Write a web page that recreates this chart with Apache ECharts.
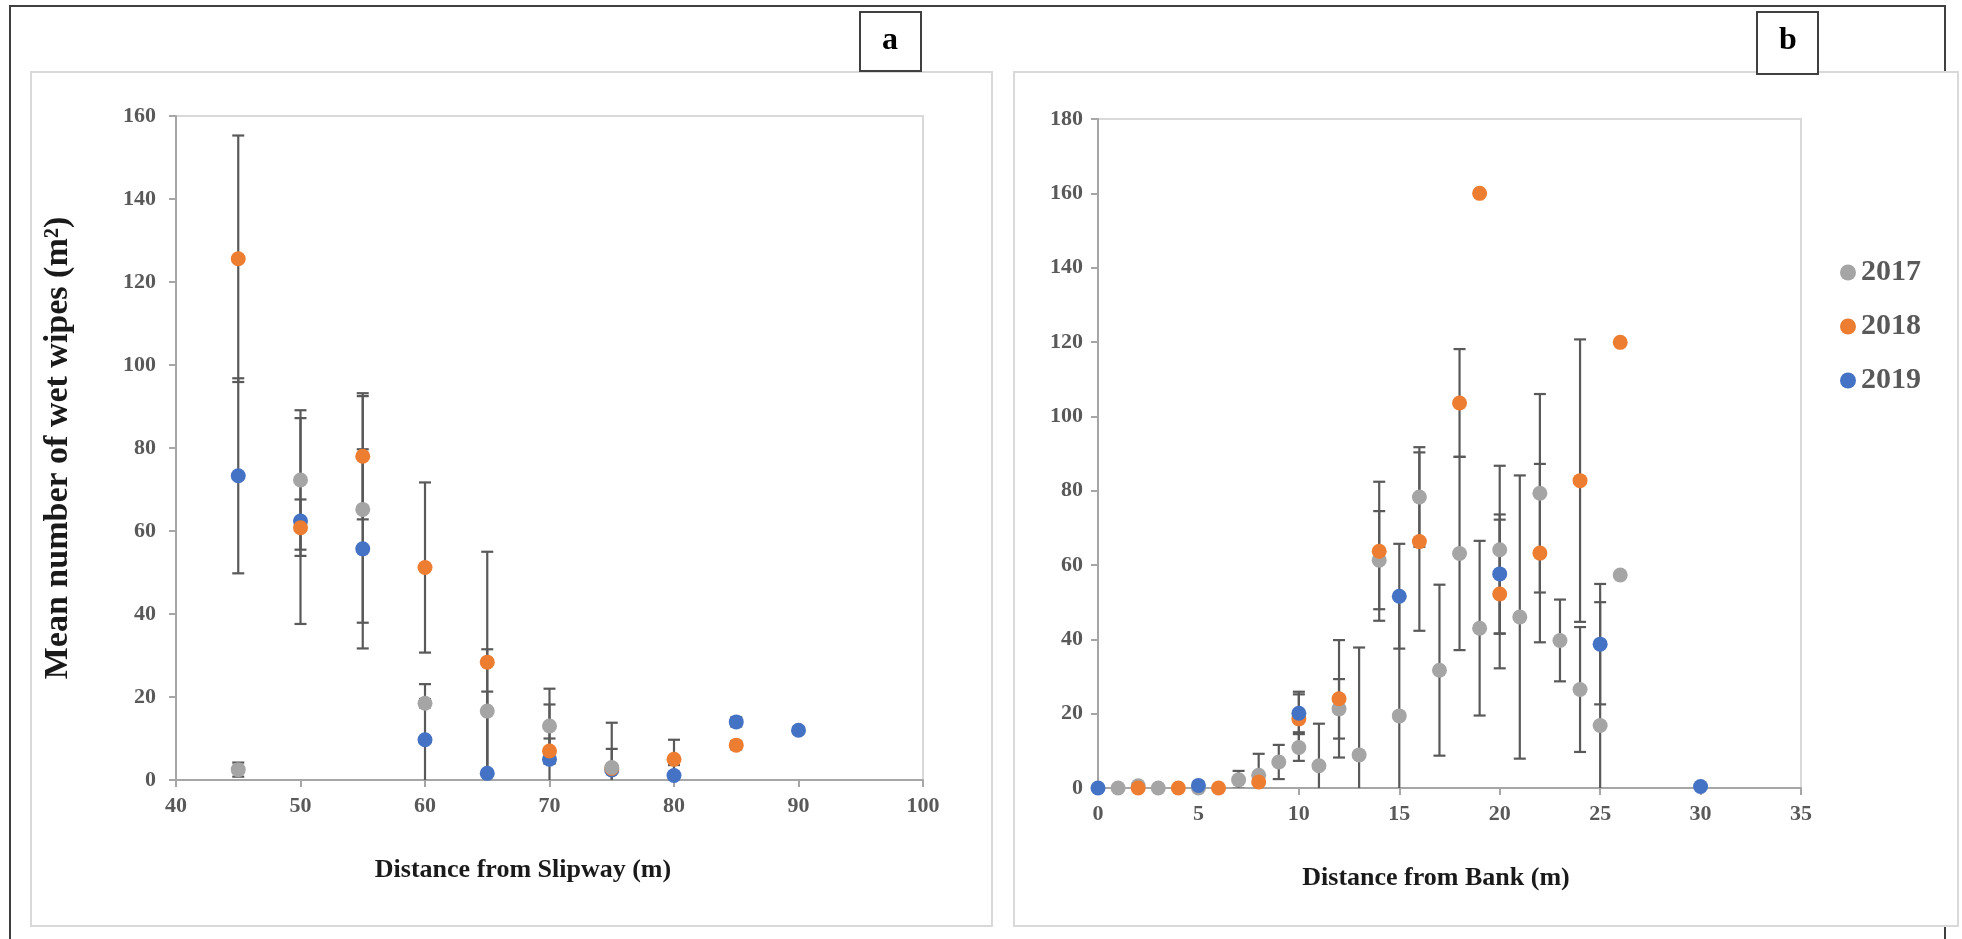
<!DOCTYPE html>
<html>
<head>
<meta charset="utf-8">
<script src="https://cdn.jsdelivr.net/npm/echarts@6/dist/echarts.min.js"></script>
<style>
  html, body { margin: 0; padding: 0; background: #fff; }
  #main { width: 1962px; height: 939px; }
</style>
</head>
<body>
<div id="main"></div>
<script>
// panel a - distance from slipway
const slipX2017 = [45, 50, 55, 60, 65, 70, 75];
const slipMean2017 = [2.5, 72.3, 65.2, 18.5, 16.6, 13.0, 3.0];
const slipErr2017 = [1.7, 16.8, 27.3, 1.0, 14.9, 9.0, 10.8];

const slipX2018 = [45, 50, 55, 60, 65, 70, 75, 80, 85];
const slipMean2018 = [125.6, 60.8, 78.0, 51.2, 28.4, 7.0, 2.8, 5.0, 8.4];
const slipErr2018 = [29.7, 6.8, 15.2, 20.5, 26.6, 3.0, 4.7, 4.7, 1.0];

const slipX2019 = [45, 50, 55, 60, 65, 70, 75, 80, 85, 90];
const slipMean2019 = [73.3, 62.4, 55.7, 9.7, 1.6, 5.0, 2.4, 1.1, 14.0, 12.0];
const slipErr2019 = [23.5, 24.8, 24.0, 13.4, 19.7, 13.2, 0.5, 2.5, 1.1, 0.8];

// panel b - distance from bank
const bankX2017 = [1, 2, 3, 5, 7, 8, 9, 10, 11, 12, 13, 14, 15, 16, 17, 18, 19, 20, 21, 22, 23, 24, 25, 26];
const bankMean2017 = [0, 0.6, 0, 0, 2.2, 3.4, 7.0, 10.9, 6.0, 21.3, 8.9, 61.3, 19.4, 78.3, 31.7, 63.1, 43.0, 64.1, 46.0, 79.3, 39.7, 26.5, 16.8, 57.3];
const bankErr2017 = [0, 0, 0, 0, 2.4, 5.8, 4.6, 3.6, 11.3, 8.0, 28.9, 13.2, 32.0, 13.4, 23.0, 26.0, 23.5, 22.6, 38.1, 26.7, 11.0, 16.8, 33.2, 0];

const bankX2018 = [2, 4, 6, 8, 10, 12, 14, 16, 18, 19, 20, 22, 24, 26];
const bankMean2018 = [0, 0, 0, 1.6, 18.6, 24.0, 63.7, 66.3, 103.6, 160.0, 52.2, 63.2, 82.7, 119.9];
const bankErr2018 = [0, 0, 0, 0, 7.3, 15.8, 18.7, 24.0, 14.5, 0, 20.0, 24.0, 38.0, 0];

const bankX2019 = [0, 5, 10, 15, 20, 25, 30];
const bankMean2019 = [0, 0.7, 20.1, 51.6, 57.6, 38.7, 0.4];
const bankErr2019 = [0, 0, 5.1, 14.1, 16.0, 16.2, 0];

const years = ['2017', '2018', '2019'];
const slipTicks = [40, 100, 10];
const bankTicks = [0, 35, 5];

const colors = { '2017': '#a5a5a5', '2018': '#ed7d31', '2019': '#4472c4' };
const serif = '"Liberation Serif", "Times New Roman", serif';

function pts(xs, ys) {
  return xs.map((x, i) => [x, ys[i]]);
}

function errorBars(name, xs, ys, errs, idx) {
  return {
    name: name,
    type: 'custom',
    xAxisIndex: idx,
    yAxisIndex: idx,
    clip: true,
    z: 1,
    silent: true,
    itemStyle: { color: colors[name] },
    encode: { x: 0, y: 1 },
    data: xs.map((x, i) => [x, ys[i], errs[i]]).filter(d => d[2] > 0),
    renderItem(params, api) {
      const x = api.value(0), y = api.value(1), e = api.value(2);
      const top = api.coord([x, y + e]);
      const bot = api.coord([x, y - e]);
      const st = { stroke: '#595959', lineWidth: 2.2 };
      const hw = 6;
      return {
        type: 'group',
        children: [
          { type: 'line', shape: { x1: top[0], y1: top[1], x2: bot[0], y2: bot[1] }, style: st },
          { type: 'line', shape: { x1: top[0] - hw, y1: top[1], x2: top[0] + hw, y2: top[1] }, style: st },
          { type: 'line', shape: { x1: bot[0] - hw, y1: bot[1], x2: bot[0] + hw, y2: bot[1] }, style: st }
        ]
      };
    }
  };
}

function dots(name, xs, ys, idx, z) {
  return {
    name: name,
    type: 'scatter',
    xAxisIndex: idx,
    yAxisIndex: idx,
    symbolSize: 15,
    z: z,
    itemStyle: { color: colors[name], opacity: 1 },
    data: pts(xs, ys)
  };
}

const axisLine = { show: true, onZero: false, lineStyle: { color: '#a6a6a6', width: 2 } };
const axisTick = { show: true, length: 7, lineStyle: { color: '#a6a6a6', width: 2 } };
const tickLabel = { fontFamily: serif, fontWeight: 'bold', fontSize: 22, color: '#595959' };

const chart = echarts.init(document.getElementById('main'));

const option = {
  animation: false,
  grid: [
    { left: 176, right: 1039, top: 116, bottom: 159, show: true, borderColor: '#d9d9d9', borderWidth: 2 },
    { left: 1098, right: 161, top: 119, bottom: 151, show: true, borderColor: '#d9d9d9', borderWidth: 2 }
  ],
  xAxis: [
    { gridIndex: 0, type: 'value', min: slipTicks[0], max: slipTicks[1], interval: slipTicks[2],
      axisLine, axisTick, splitLine: { show: false }, axisLabel: Object.assign({ margin: 15 }, tickLabel) },
    { gridIndex: 1, type: 'value', min: bankTicks[0], max: bankTicks[1], interval: bankTicks[2],
      axisLine, axisTick, splitLine: { show: false }, axisLabel: Object.assign({ margin: 15 }, tickLabel) }
  ],
  yAxis: [
    { gridIndex: 0, type: 'value', min: 0, max: 160, interval: 20,
      axisLine, axisTick, splitLine: { show: false }, axisLabel: Object.assign({ margin: 20 }, tickLabel) },
    { gridIndex: 1, type: 'value', min: 0, max: 180, interval: 20,
      axisLine, axisTick, splitLine: { show: false }, axisLabel: Object.assign({ margin: 15 }, tickLabel) }
  ],
  legend: {
    data: years.map(y => ({ name: y, icon: 'circle', itemStyle: { color: colors[y] } })),
    orient: 'vertical',
    left: 1835,
    top: 252,
    itemGap: 23,
    itemWidth: 16,
    itemHeight: 16,
    selectedMode: false,
    textStyle: { fontFamily: serif, fontWeight: 'bold', fontSize: 30, color: '#595959', lineHeight: 31 }
  },
  graphic: [
    { type: 'rect', z: -10, shape: { x: 10, y: 6, width: 1935, height: 960 }, style: { fill: 'none', stroke: '#404040', lineWidth: 2 } },
    { type: 'rect', z: -5, shape: { x: 31, y: 72, width: 961, height: 854 }, style: { fill: '#fff', stroke: '#d9d9d9', lineWidth: 2 } },
    { type: 'rect', z: -5, shape: { x: 1014, y: 72, width: 944, height: 854 }, style: { fill: '#fff', stroke: '#d9d9d9', lineWidth: 2 } },
    { type: 'rect', z: 5, shape: { x: 860, y: 12, width: 61, height: 59 }, style: { fill: '#fff', stroke: '#404040', lineWidth: 2 } },
    { type: 'text', z: 6, x: 890, y: 41, style: { text: 'a', font: 'bold 32px ' + serif, fill: '#000', textAlign: 'center', textVerticalAlign: 'middle' } },
    { type: 'rect', z: 5, shape: { x: 1757, y: 12, width: 61, height: 62 }, style: { fill: '#fff', stroke: '#404040', lineWidth: 2 } },
    { type: 'text', z: 6, x: 1788, y: 41, style: { text: 'b', font: 'bold 32px ' + serif, fill: '#000', textAlign: 'center', textVerticalAlign: 'middle' } },
    { type: 'text', x: 523, y: 870, style: { text: 'Distance from Slipway (m)', font: 'bold 26px ' + serif, fill: '#1a1a1a', textAlign: 'center', textVerticalAlign: 'middle' } },
    { type: 'text', x: 1436, y: 878, style: { text: 'Distance from Bank (m)', font: 'bold 26px ' + serif, fill: '#1a1a1a', textAlign: 'center', textVerticalAlign: 'middle' } },
    { type: 'text', x: 58, y: 448, rotation: Math.PI / 2, style: { text: 'Mean number of wet wipes (m²)', font: 'bold 34px ' + serif, fill: '#1a1a1a', textAlign: 'center', textVerticalAlign: 'middle' } }
  ],
  series: [
    errorBars('2017', slipX2017, slipMean2017, slipErr2017, 0),
    errorBars('2018', slipX2018, slipMean2018, slipErr2018, 0),
    errorBars('2019', slipX2019, slipMean2019, slipErr2019, 0),
    dots('2019', slipX2019, slipMean2019, 0, 2),
    dots('2018', slipX2018, slipMean2018, 0, 3),
    dots('2017', slipX2017, slipMean2017, 0, 4),
    errorBars('2017', bankX2017, bankMean2017, bankErr2017, 1),
    errorBars('2018', bankX2018, bankMean2018, bankErr2018, 1),
    errorBars('2019', bankX2019, bankMean2019, bankErr2019, 1),
    dots('2017', bankX2017, bankMean2017, 1, 2),
    dots('2018', bankX2018, bankMean2018, 1, 3),
    dots('2019', bankX2019, bankMean2019, 1, 4)
  ]
};

chart.setOption(option);
</script>
</body>
</html>
